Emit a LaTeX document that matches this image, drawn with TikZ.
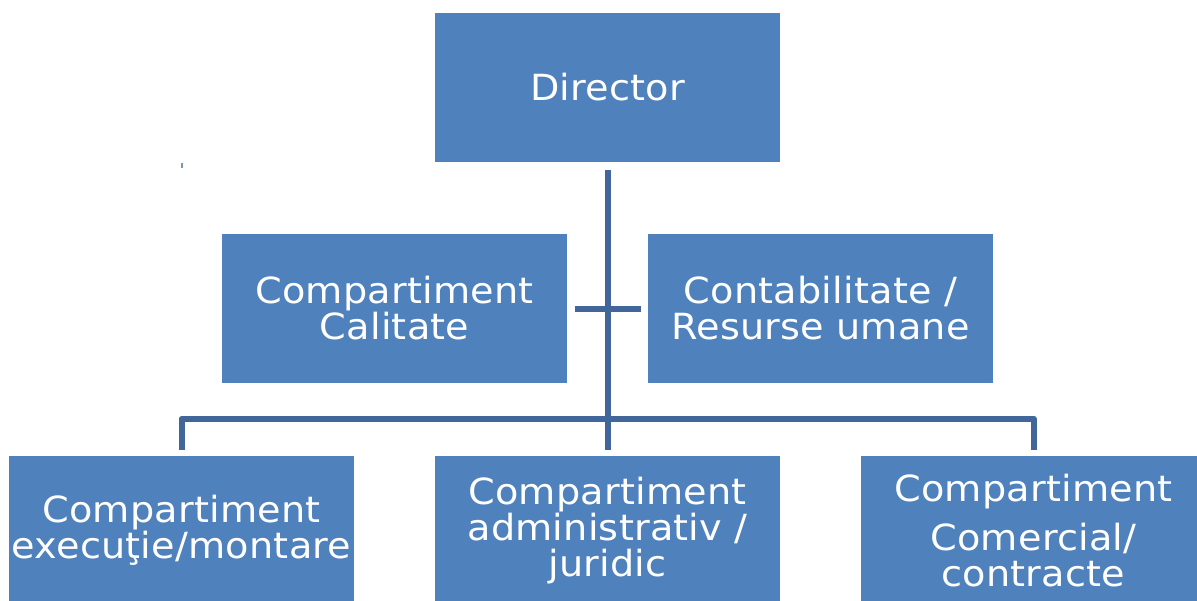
\documentclass[tikz,border=0pt]{standalone}
\usepackage{fontspec}
\setmainfont{DejaVu Sans}[FakeStretch = 1.06, LetterSpace = 0.6]
\usepackage{tikz}
\definecolor{boxblue}{HTML}{4F81BD}
\definecolor{lineblue}{HTML}{41679A}

\begin{document}
\begin{tikzpicture}[x = 0.02cm, y = -0.02cm,
                    unit/.style = {rectangle, fill = boxblue, text = white, inner sep = 0pt,
                                   minimum width = 6.9cm, minimum height = 2.98cm, align = center,
                                   font = \fontsize{20.5}{20.5}\selectfont},
                    link/.style = {draw = lineblue, line width = 0.12cm, line join = round}]
  \clip (0, 0) rectangle (1197, 600);
  \node [unit] (N1) at (607.5, 87.5) {Director};
  \node [unit] (N2) at (394.5, 308.5) {Compartiment\\Calitate};
  \node [unit] (N3) at (820.5, 308.5) {Contabilitate /\\Resurse umane};
  \node [unit] (N4) at (181.5, 530.5) {Compartiment\\execuţie/montare};
  \node [unit] (N5) at (607.5, 530.5) {Compartiment\\administrativ /\\juridic};
  \node [unit] (N6) at (1033.5, 530.5) {Compartiment\\[7.4pt]Comercial/\\contracte};
  \draw [link] ([yshift = -0.16cm]N1.south) -- ([yshift = 0.12cm]N5.north);
  \draw [link] ([xshift = 0.16cm]N2.east) -- ([xshift = -0.14cm]N3.west);
  \draw [link] ([yshift = 0.12cm]N4.north) |- ([yshift = 0.74cm]N5.north) -| ([yshift = 0.12cm]N6.north);
  \draw [lineblue!70, line width = 0.04cm] (181.5, 163) -- (181.5, 168);
\end{tikzpicture}
\end{document}
